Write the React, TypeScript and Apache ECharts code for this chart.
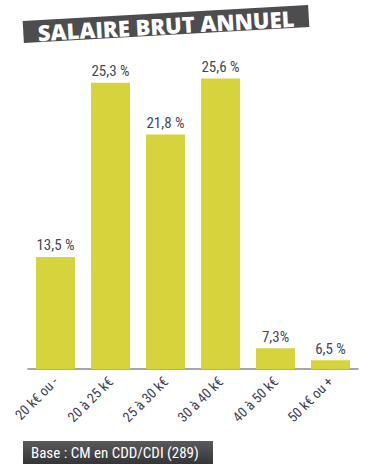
import React, { useEffect, useRef } from "react";
import * as echarts from "echarts";

const categories = ["20 k€ ou -", "20 à 25 k€", "25 à 30 k€", "30 à 40 k€", "40 à 50 k€", "50 k€ ou +"];
const values = [13.5, 25.3, 21.8, 25.6, 7.3, 6.5];
const valueLabels = ["13,5 %", "25,3 %", "21,8 %", "25,6 %", "7,3%", "6,5 %"];
const titleText = "SALAIRE BRUT ANNUEL";
const footerText = "Base : CM en CDD/CDI (289)";

const NARROW = "'Liberation Sans Narrow', 'Roboto Condensed', Roboto, sans-serif";

export default function App() {
  const ref = useRef<HTMLDivElement>(null);
  useEffect(() => {
    if (!ref.current) return;
    const chart = echarts.init(ref.current, undefined, { renderer: "svg" });
    chart.setOption({
      animation: false,
      backgroundColor: "#ffffff",
      grid: { left: 28, right: 15, top: 43, bottom: 106, containLabel: false },
      xAxis: {
        type: "category",
        data: categories,
        axisLine: { show: true, lineStyle: { color: "#8a8a8a", width: 1.5 } },
        axisTick: { show: false },
        axisLabel: {
          rotate: 45,
          interval: 0,
          margin: 10,
          color: "#3d4152",
          fontFamily: NARROW,
          fontSize: 14,
        },
      },
      yAxis: {
        type: "value",
        min: 5.9,
        max: 28,
        show: false,
        splitLine: { show: false },
      },
      series: [
        {
          type: "bar",
          data: values,
          barWidth: 39,
          itemStyle: { color: "#d5d43c" },
          label: {
            show: true,
            position: "top",
            distance: 4,
            color: "#444857",
            fontFamily: NARROW,
            fontSize: 15,
            formatter: (p: any) => valueLabels[p.dataIndex],
          },
        },
      ],
      graphic: [
        {
          type: "group",
          x: 166,
          y: 24,
          rotation: 0.056,
          children: [
            {
              type: "rect",
              shape: { x: -143, y: -11, width: 286, height: 22 },
              style: { fill: "#4d4d4f" },
            },
            {
              type: "text",
              x: 0,
              y: 1,
              style: {
                text: titleText,
                fill: "#ffffff",
                font: "800 22px 'Open Sans', 'DejaVu Sans', sans-serif",
                align: "center",
                verticalAlign: "middle",
              },
            },
          ],
        },
        {
          type: "rect",
          shape: { x: 23, y: 441, width: 190, height: 23 },
          style: {
            fill: new echarts.graphic.LinearGradient(0, 0, 0, 1, [
              { offset: 0, color: "#5a5a5c" },
              { offset: 1, color: "#353537" },
            ]),
          },
        },
        {
          type: "text",
          x: 31,
          y: 453,
          style: {
            text: footerText,
            fill: "#ffffff",
            font: "15px " + NARROW,
            verticalAlign: "middle",
          },
        },
      ],
    });
    return () => chart.dispose();
  }, []);
  return <div ref={ref} style={{ position: "fixed", left: 0, top: 0, width: 373, height: 475 }} />;
}
